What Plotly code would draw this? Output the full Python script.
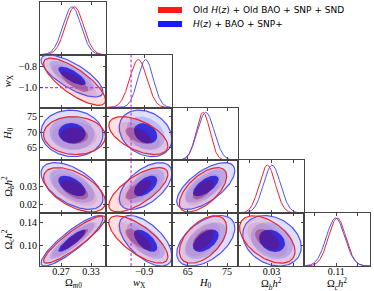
import numpy as np
import plotly.graph_objects as go

# ---------------- data ----------------
params = ["Om", "wX", "H0", "Obh2", "Och2"]
labels = ["Ω<sub><i>m</i>0</sub>", "<i>w</i><sub>X</sub>", "<i>H</i><sub>0</sub>",
          "Ω<sub><i>b</i></sub><i>h</i><sup>2</sup>", "Ω<sub><i>c</i></sub><i>h</i><sup>2</sup>"]

mean_old = [0.297, -0.945, 68.9, 0.0281, 0.1112]
sigma_old = [0.018, 0.065, 1.75, 0.0036, 0.0120]
mean_new = [0.292, -0.890, 69.6, 0.0302, 0.1090]
sigma_new = [0.018, 0.058, 2.15, 0.0038, 0.0128]

# correlation coefficients for pairs (i, j), i < j
corr_pairs = [(0, 1), (0, 2), (0, 3), (0, 4), (1, 2), (1, 3), (1, 4), (2, 3), (2, 4), (3, 4)]
corr_old = [-0.78, -0.05, -0.55, 0.90, -0.55, 0.70, -0.72, 0.62, 0.50, -0.50]
corr_new = [-0.75, -0.05, -0.55, 0.88, -0.25, 0.55, -0.60, 0.65, 0.50, -0.25]

axis_ranges = [[0.228, 0.36], [-1.19, -0.69], [61.0, 77.8], [0.0150, 0.0445], [0.065, 0.157]]
x_tickvals = [[0.27, 0.33], [-0.9], [65, 70, 75], [0.02, 0.03, 0.04], [0.08, 0.11, 0.14]]
x_ticktext = [["0.27", "0.33"], ["−0.9"], ["65", "", "75"], ["", "0.03", ""], ["", "0.11", ""]]
y_tickvals = [[], [-0.8, -1.0], [65, 70, 75], [0.02, 0.03], [0.10, 0.14]]
y_ticktext = [[], ["−0.8", "−1.0"], ["65", "70", "75"], ["0.02", "0.03"], ["0.10", "0.14"]]

wX_ref = -1.0
legend_names = ["Old <i>H</i>(<i>z</i>) + Old BAO + SNP + SND", "<i>H</i>(<i>z</i>) + BAO + SNP+"]

# ---------------- styling ----------------
N = 5
levels = [3.44, 2.49, 1.52]  # 99.7, 95, 68 % radii
red_fill_outer = ["rgba(255,80,80,0.18)", "rgba(240,70,90,0.16)"]
red_fill_inner = "rgba(130,0,60,0.35)"
blue_fill = ["rgba(90,90,255,0.20)", "rgba(80,80,235,0.25)", "rgba(0,0,220,0.70)"]
red_line = "#e8262a"
blue_line = "#5252f2"
mag = "#c43fd6"
tick_font = dict(family="Liberation Serif", size=10, color="black")
title_font = dict(family="Liberation Serif", size=10.5, color="black")

W, H = 374, 291
ml, mr, mt, mb = 40, 4, 2, 25
pw, ph = W - ml - mr, H - mt - mb

def px2paper(x, y):
    return (x - ml) / pw, 1 - (y - mt) / ph

fig = go.Figure()
layout = {}
annotations = []

def corr(c_list, a, b):
    return c_list[corr_pairs.index((min(a, b), max(a, b)))]

def ellipse(mx, my, sx, sy, rho, r):
    t = np.linspace(0, 2 * np.pi, 120)
    x = mx + sx * r * np.cos(t)
    y = my + sy * r * (rho * np.cos(t) + np.sqrt(1 - rho ** 2) * np.sin(t))
    return x, y

def add_fill(ex, ey, fc, xa, ya):
    fig.add_trace(go.Scatter(x=ex, y=ey, mode="lines", fill="toself", fillcolor=fc,
                             line=dict(width=0), xaxis=xa, yaxis=ya,
                             showlegend=False, hoverinfo="skip"))

k = 0
for i in range(N):
    for j in range(i + 1):
        k += 1
        xa = "x" if k == 1 else f"x{k}"
        ya = "y" if k == 1 else f"y{k}"
        xkey = "xaxis" if k == 1 else f"xaxis{k}"
        ykey = "yaxis" if k == 1 else f"yaxis{k}"
        xdom = [j / N, (j + 1) / N]
        ydom = [1 - (i + 1) / N, 1 - i / N]
        layout[xkey] = dict(domain=xdom, anchor=ya, range=axis_ranges[j],
                            tickvals=x_tickvals[j], ticktext=x_ticktext[j],
                            showticklabels=(i == N - 1), ticks="inside", ticklen=3,
                            tickcolor="#444", showline=True, linecolor="#444", linewidth=1,
                            mirror="ticks", showgrid=False, zeroline=False,
                            tickfont=tick_font, ticklabelstandoff=-4)
        if j == i:
            yr = [0, 1.1]
            ytv, ytt = [], []
        else:
            yr = axis_ranges[i]
            ytv, ytt = y_tickvals[i], y_ticktext[i]
        layout[ykey] = dict(domain=ydom, anchor=xa, range=yr, tickvals=ytv, ticktext=ytt,
                            showticklabels=(j == 0 and i > 0), ticks="inside", ticklen=3,
                            tickcolor="#444", showline=True, linecolor="#444", linewidth=1,
                            mirror="ticks", showgrid=False, zeroline=False,
                            tickfont=tick_font)

        if i == j:
            xs = np.linspace(axis_ranges[j][0], axis_ranges[j][1], 200)
            for m, s, c in [(mean_old, sigma_old, red_line), (mean_new, sigma_new, blue_line)]:
                ys = np.exp(-0.5 * ((xs - m[j]) / s[j]) ** 2)
                fig.add_trace(go.Scatter(x=xs, y=ys, mode="lines", line=dict(color=c, width=1),
                                         xaxis=xa, yaxis=ya, showlegend=False, hoverinfo="skip"))
        else:
            ro, so = corr(corr_old, j, i), corr(corr_new, j, i)
            for r, fc in zip(levels[:2], red_fill_outer):
                ex, ey = ellipse(mean_old[j], mean_old[i], sigma_old[j], sigma_old[i], ro, r)
                add_fill(ex, ey, fc, xa, ya)
            for r, fc in zip(levels, blue_fill):
                ex, ey = ellipse(mean_new[j], mean_new[i], sigma_new[j], sigma_new[i], so, r)
                add_fill(ex, ey, fc, xa, ya)
            ex, ey = ellipse(mean_old[j], mean_old[i], sigma_old[j], sigma_old[i], ro, levels[2])
            add_fill(ex, ey, red_fill_inner, xa, ya)
            for m, s, rho, lc in [(mean_new, sigma_new, so, blue_line), (mean_old, sigma_old, ro, red_line)]:
                ex, ey = ellipse(m[j], m[i], s[j], s[i], rho, levels[0])
                fig.add_trace(go.Scatter(x=ex, y=ey, mode="lines", line=dict(color=lc, width=1.2),
                                         xaxis=xa, yaxis=ya, showlegend=False, hoverinfo="skip"))
        if j == 1:
            fig.add_trace(go.Scatter(x=[wX_ref, wX_ref], y=yr, mode="lines",
                                     line=dict(color=mag, width=1.2, dash="3px,2px"),
                                     xaxis=xa, yaxis=ya, showlegend=False, hoverinfo="skip"))
        if i == 1 and j == 0:
            fig.add_trace(go.Scatter(x=axis_ranges[0], y=[wX_ref, wX_ref], mode="lines",
                                     line=dict(color=mag, width=1.2, dash="3px,2px"),
                                     xaxis=xa, yaxis=ya, showlegend=False, hoverinfo="skip"))

for j in range(N):
    tx, ty = px2paper(ml + (j + 0.5) * pw / N, 283.5)
    annotations.append(dict(xref="paper", yref="paper", x=tx, y=ty, text=labels[j],
                            showarrow=False, xanchor="center", yanchor="middle",
                            font=title_font, borderpad=0))
for i in range(1, N):
    tx, ty = px2paper(8, mt + (i + 0.5) * ph / N)
    annotations.append(dict(xref="paper", yref="paper", x=tx, y=ty, text=labels[i],
                            showarrow=False, xanchor="center", yanchor="middle",
                            textangle=-90, font=title_font, borderpad=0))

shapes = []
for idx, (col, name) in enumerate([("#ff1a1a", legend_names[0]), ("#1a1aff", legend_names[1])]):
    y0, y1 = 7 + idx * 14, 13 + idx * 14
    ax0, ay0 = px2paper(158, y0)
    ax1, ay1 = px2paper(182, y1)
    shapes.append(dict(type="rect", xref="paper", yref="paper", x0=ax0, x1=ax1, y0=ay1, y1=ay0,
                       fillcolor=col, line=dict(width=0)))
    tx, ty = px2paper(191, (y0 + y1) / 2)
    annotations.append(dict(xref="paper", yref="paper", x=tx, y=ty, text=name, showarrow=False,
                            xanchor="left", yanchor="middle",
                            font=dict(family="DejaVu Sans", size=9, color="black")))

fig.update_layout(**layout)
fig.update_layout(width=W, height=H, margin=dict(l=ml, r=mr, t=mt, b=mb),
                  plot_bgcolor="white", paper_bgcolor="white", showlegend=False,
                  shapes=shapes, annotations=annotations)
fig.write_html("out.html", config={"displayModeBar": False},
               post_script="document.body.style.margin='0px';")
